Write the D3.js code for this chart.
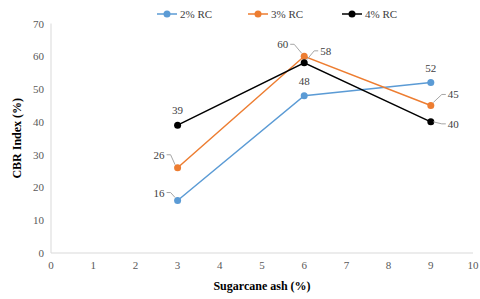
<!DOCTYPE html>
<html>
<head>
    <meta charset="utf-8">
    <style>
        body { margin: 0; background: #fff; }
    </style>
    <script src="https://d3js.org/d3.v7.min.js"></script>
</head>
<body>
<svg id="chart"></svg>
<script>
    // Chart data
    const ashLevels = [3, 6, 9];
    const seriesNames = ['2% RC', '3% RC', '4% RC'];
    const rc2 = [16, 48, 52];
    const rc3 = [26, 60, 45];
    const rc4 = [39, 58, 40];
    const xTicks = [0, 1, 2, 3, 4, 5, 6, 7, 8, 9, 10];
    const yTicks = [0, 10, 20, 30, 40, 50, 60, 70];

    const colors = ['#5b9bd5', '#ed7d31', '#000000'];

    // label placement per point: [dx, dy, leader?] relative to the point
    const labelPlacement = [
        [[-13, -8, true], [0, -15, false], [0, -15, false]],
        [[-13, -13, true], [-16, -12, true], [17, -11, true]],
        [[0, -15, false], [16, -12, true], [17, 2, true]]
    ];

    const FONT = '"Liberation Serif", "Times New Roman", serif';
    const width = 480, height = 299;
    const svg = d3.select('#chart')
        .attr('width', width).attr('height', height)
        .attr('font-family', FONT);

    const x = d3.scaleLinear().domain([0, 10]).range([51, 473]);
    const y = d3.scaleLinear().domain([0, 70]).range([253, 23.5]);

    // axis lines
    svg.append('line')
        .attr('x1', x(0)).attr('x2', x(10))
        .attr('y1', y(0)).attr('y2', y(0))
        .attr('stroke', '#d9d9d9').attr('stroke-width', 1);
    svg.append('line')
        .attr('x1', x(0)).attr('x2', x(0))
        .attr('y1', y(0)).attr('y2', y(70))
        .attr('stroke', '#d9d9d9').attr('stroke-width', 1);

    // tick labels
    svg.selectAll('.xt').data(xTicks).enter().append('text')
        .attr('x', d => x(d)).attr('y', y(0) + 16)
        .attr('text-anchor', 'middle')
        .attr('font-size', 11).attr('fill', '#595959')
        .text(d => d);
    svg.selectAll('.yt').data(yTicks).enter().append('text')
        .attr('x', x(0) - 7).attr('y', d => y(d) + 4)
        .attr('text-anchor', 'end')
        .attr('font-size', 11).attr('fill', '#595959')
        .text(d => d);

    // axis titles
    svg.append('text')
        .attr('x', 262).attr('y', 290)
        .attr('text-anchor', 'middle')
        .attr('font-size', 12).attr('font-weight', 'bold')
        .text('Sugarcane ash (%)');
    svg.append('text')
        .attr('transform', `translate(21,${(y(0) + y(70)) / 2}) rotate(-90)`)
        .attr('text-anchor', 'middle')
        .attr('font-size', 12).attr('font-weight', 'bold')
        .text('CBR Index (%)');

    const allSeries = [rc2, rc3, rc4];
    const line = d3.line().x(d => x(d[0])).y(d => y(d[1]));

    allSeries.forEach((vals, i) => {
        const pts = ashLevels.map((a, j) => [a, vals[j]]);
        svg.append('path')
            .attr('d', line(pts))
            .attr('fill', 'none')
            .attr('stroke', colors[i]).attr('stroke-width', 1.5);
        svg.selectAll(null).data(pts).enter().append('circle')
            .attr('cx', d => x(d[0])).attr('cy', d => y(d[1]))
            .attr('r', 3.5).attr('fill', colors[i]);
    });

    // data labels with leader lines
    allSeries.forEach((vals, i) => {
        ashLevels.forEach((a, j) => {
            const px = x(a), py = y(vals[j]);
            const [dx, dy, leader] = labelPlacement[i][j];
            const lx = px + dx, ly = py + dy;
            let anchor = 'middle';
            if (leader) {
                const left = dx < 0;
                anchor = left ? 'end' : 'start';
                const s = left ? 1 : -1;
                const pts = [
                    [lx + s * 2, ly],
                    [lx + s * 6, ly],
                    [px - s * 2.5, py + (dy < -4 ? -3 : 0)]
                ];
                svg.append('polyline')
                    .attr('points', pts.map(p => p.join(',')).join(' '))
                    .attr('fill', 'none')
                    .attr('stroke', '#a6a6a6').attr('stroke-width', 1);
            }
            svg.append('text')
                .attr('x', lx).attr('y', ly + 4)
                .attr('text-anchor', anchor)
                .attr('font-size', 11).attr('fill', '#404040')
                .text(vals[j]);
        });
    });

    // legend
    const legendX = [157, 248, 342];
    seriesNames.forEach((name, i) => {
        const g = svg.append('g').attr('transform', `translate(${legendX[i]},14)`);
        g.append('line').attr('x1', 0).attr('x2', 20).attr('y1', 0).attr('y2', 0)
            .attr('stroke', colors[i]).attr('stroke-width', 1.5);
        g.append('circle').attr('cx', 10).attr('cy', 0).attr('r', 3.5).attr('fill', colors[i]);
        g.append('text').attr('x', 23).attr('y', 4)
            .attr('font-size', 11).attr('fill', '#404040')
            .text(name);
    });
</script>
</body>
</html>
